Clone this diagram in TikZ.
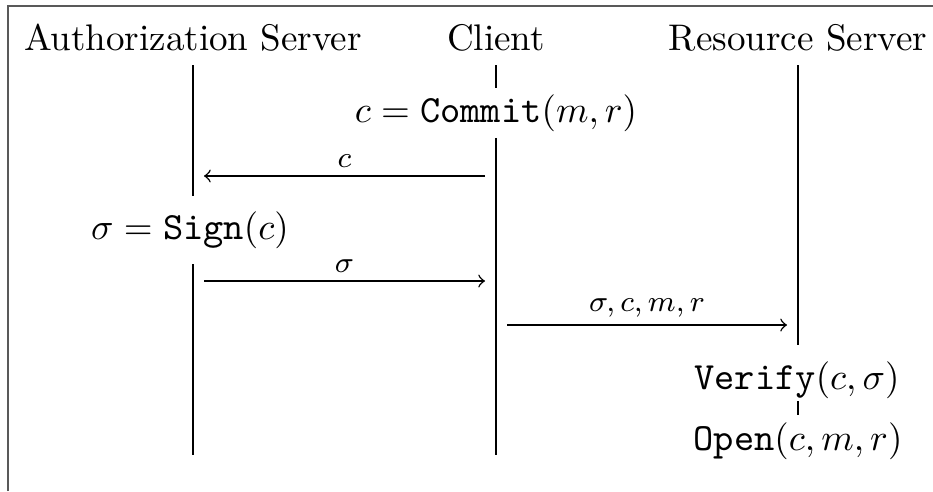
\documentclass[tikz,border=0pt]{standalone}
\usetikzlibrary{arrows}
\begin{document}
\begin{tikzpicture}[x=0.27pt,y=-0.27pt,
  party/.style={inner sep=0pt,anchor=base},
  action/.style={fill=white,inner sep=1.5pt,font=\fontsize{10.4pt}{12.5pt}\selectfont},
  msg/.style={->,line width=0.4pt},
  msglabel/.style={font=\footnotesize,above,inner sep=2pt}]
  \useasboundingbox (0,0) rectangle (933,491);
  % frame edges
  \draw[line width=0.5pt,gray!70!black] (8,491) -- (8,6) -- (933,6);

  % participants
  \node[party] (as) at (193,50) {Authorization Server};
  \node[party] (cl) at (496,50) {Client};
  \node[party] (rs) at (798,50) {Resource Server};

  % local computations
  \node[action] (commit) at (496,113) {$c = \texttt{Commit}(m,r)$};
  \node[action] (sign)   at (190,230) {$\sigma = \texttt{Sign}(c)$};
  \node[action] (verify) at (797,380) {$\texttt{Verify}(c,\sigma)$};
  \node[action] (open)   at (798,441) {$\texttt{Open}(c,m,r)$};

  % lifelines
  \coordinate (asTop) at (193,65);
  \coordinate (clTop) at (496,65);
  \coordinate (rsTop) at (798,65);
  \coordinate (asEnd) at (193,455);
  \coordinate (clEnd) at (496,455);
  \coordinate (asSignTop) at (193,196);
  \coordinate (asSignBot) at (193,264);
  \coordinate (rsVerTop) at (798,345);
  \coordinate (rsVerBot) at (798,401);
  \coordinate (rsOpenTop) at (798,415);
  \draw (asTop) -- (asSignTop);
  \draw (asSignBot) -- (asEnd);
  \draw (clTop) -- (commit.north);
  \draw (commit.south) -- (clEnd);
  \draw (rsTop) -- (rsVerTop);
  \draw (rsVerBot) -- (rsOpenTop);

  % messages
  \coordinate (m1s) at (485,176);
  \coordinate (m1e) at (204,176);
  \coordinate (m2s) at (204,281);
  \coordinate (m2e) at (485,281);
  \coordinate (m3s) at (507,325);
  \coordinate (m3e) at (787,325);
  \draw[msg] (m1s) -- node[msglabel] {$c$} (m1e);
  \draw[msg] (m2s) -- node[msglabel] {$\sigma$} (m2e);
  \draw[msg] (m3s) -- node[msglabel] {$\sigma, c, m, r$} (m3e);
\end{tikzpicture}
\end{document}
